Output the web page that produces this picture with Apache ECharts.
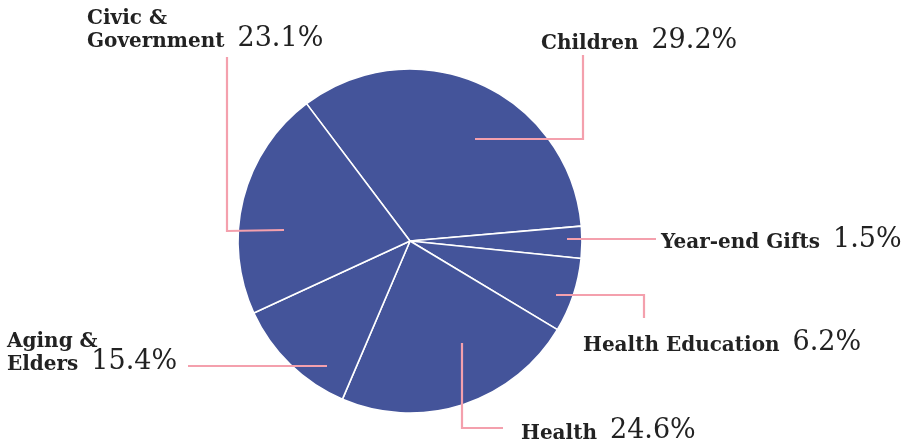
<!DOCTYPE html>
<html>
<head>
<meta charset="utf-8">
<script src="https://cdn.jsdelivr.net/npm/echarts@6/dist/echarts.min.js"></script>
<style>
  html, body { margin: 0; padding: 0; background: #ffffff; }
  #chart { width: 918px; height: 445px; }
</style>
</head>
<body>
<div id="chart"></div>
<script>
// ---- data ----
const categories = ['Children', 'Year-end Gifts', 'Health Education', 'Health', 'Aging & Elders', 'Civic & Government'];
const labelNames = ['Children', 'Year-end Gifts', 'Health Education', 'Health', 'Aging &\nElders', 'Civic &\nGovernment'];
const labelPercents = [29.2, 1.5, 6.2, 24.6, 15.4, 23.1];
// slice sizes as drawn (measured from the slice angles in the picture)
const sliceShares = [33.9, 3.0, 7.0, 22.8, 11.7, 21.6];

// ---- label placement (styling, not data) ----
// label: left x / bottom y of text block; line: polyline points
const labelSpots = [
  { x: 541, y: 54,  line: [[475, 139], [583, 139], [583, 55]] },
  { x: 661, y: 253, line: [[567, 239], [610, 239], [656, 239]] },
  { x: 583, y: 356, line: [[556, 295], [644, 295], [644, 318]] },
  { x: 521, y: 444, line: [[462, 343], [462, 428], [503, 428]] },
  { x: 7,   y: 375, line: [[327, 366], [260, 366], [188, 366]] },
  { x: 87,  y: 52,  line: [[284, 230], [227, 231], [227, 57]] }
];

const chart = echarts.init(document.getElementById('chart'), null, { renderer: 'canvas' });

function labelText(i) {
  const lines = labelNames[i].split('\n');
  const head = lines.slice(0, -1).map(l => '{n|' + l + '}');
  head.push('{n|' + lines[lines.length - 1] + '}{v|' + labelPercents[i].toFixed(1) + '%}');
  return head.join('\n');
}

const pieData = categories.map((c, i) => ({ name: c, value: sliceShares[i] }));
const labelData = categories.map((c, i) => ({
  name: c,
  value: sliceShares[i],
  label: { formatter: () => labelText(i) }
}));

const common = {
  type: 'pie',
  center: [410, 241],
  radius: [0, 172],
  startAngle: 127,
  clockwise: true,
  avoidLabelOverlap: false,
  silent: true
};

chart.setOption({
  animation: false,
  backgroundColor: '#ffffff',
  series: [
    Object.assign({}, common, {
      z: 2,
      itemStyle: { color: '#44549a', borderColor: '#ffffff', borderWidth: 1.6 },
      label: { show: false },
      labelLine: { show: false },
      data: pieData
    }),
    Object.assign({}, common, {
      z: 5,
      itemStyle: { color: 'rgba(0,0,0,0)', borderWidth: 0 },
      label: {
        show: true,
        position: 'outside',
        color: '#222222',
        align: 'left',
        rich: {
          n: { fontFamily: 'DejaVu Serif', fontWeight: 'bold', fontSize: 20, color: '#222222', lineHeight: 23, verticalAlign: 'bottom' },
          v: { fontFamily: 'DejaVu Serif', fontWeight: 'normal', fontSize: 27, color: '#222222', lineHeight: 23, verticalAlign: 'bottom', padding: [0, 0, 0, 13] }
        }
      },
      labelLine: { show: true, smooth: false, lineStyle: { color: '#f4a0ad', width: 2.2 } },
      labelLayout: function (params) {
        const s = labelSpots[params.dataIndex];
        return {
          x: s.x,
          y: s.y,
          align: 'left',
          verticalAlign: 'bottom',
          labelLinePoints: s.line
        };
      },
      data: labelData
    })
  ]
});
</script>
</body>
</html>
